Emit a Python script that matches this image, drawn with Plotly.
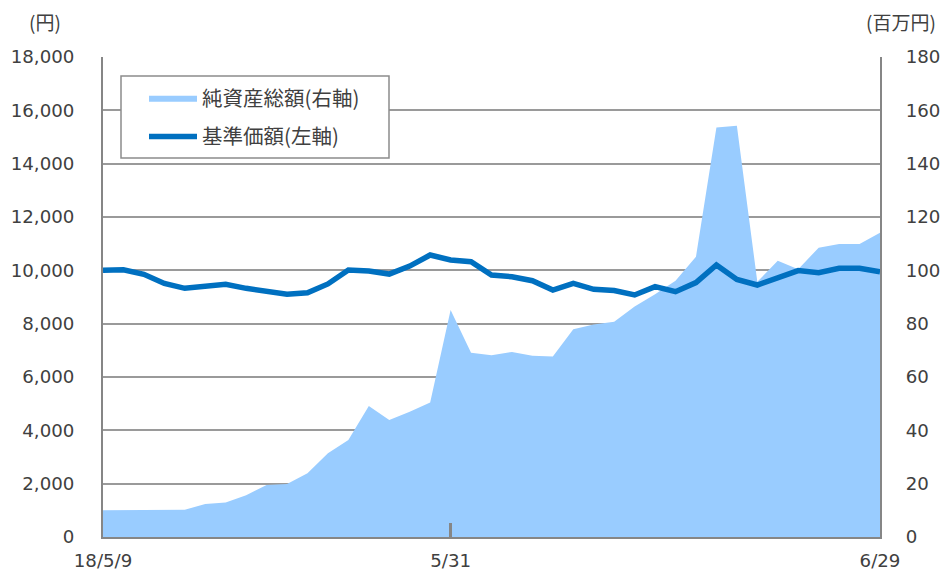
import pandas as pd
import plotly.graph_objects as go

# categories (business days)
dates = [d.strftime("%Y-%m-%d") for d in pd.bdate_range("2018-05-08", "2018-06-29")]
tick_idx = [0, 17, 38]
tick_text = ["18/5/9", "5/31", "6/29"]

# 基準価額 (円, left axis)
nav_price = [10000, 10020, 9850, 9510, 9325, 9390, 9475, 9325, 9200, 9100,
             9160, 9490, 10010, 9975, 9860, 10160, 10575, 10390, 10325, 9825,
             9760, 9610, 9260, 9510, 9290, 9240, 9075, 9390, 9200, 9540,
             10200, 9660, 9450, 9700, 9990, 9910, 10075, 10075, 9950]

# 純資産総額 (百万円, right axis)
net_assets = [10.0, 10.0, 10.0, 10.0, 10.2, 12.4, 12.9, 15.7, 19.5, 19.9,
              23.9, 31.4, 36.4, 49.1, 43.9, 47.0, 50.4, 85.1, 69.1, 68.2,
              69.4, 68.0, 67.7, 77.9, 79.7, 80.7, 86.4, 91.0, 96.1, 105.1,
              153.6, 154.2, 95.7, 103.6, 100.4, 108.5, 109.9, 109.9, 114.1]

left_ticks = list(range(0, 18001, 2000))
right_ticks = list(range(0, 181, 20))

FONT = "DejaVu Sans"
JP = "Noto Sans CJK JP"
TXT = "#404040"
GRID = "#9a9a9a"
AX = "#868686"
FS = 18.2

# the page body adds an 8px margin, so the figure is 8px smaller each way
W, H = 940, 566
L, T = 95, 49
PW, PH = 777, 480
R, B = W - L - PW, H - T - PH

# reference-pixel -> paper helpers (plot area spans x 103..880, y 57..537)
def px_x(x):
    return (x - 103) / PW


def px_y(y):
    return (537 - y) / PH


fig = go.Figure()
fig.add_trace(go.Scatter(
    x=dates, y=net_assets, name="純資産総額(右軸)", mode="lines",
    line=dict(width=0, color="#99CCFF"), fill="tozeroy", fillcolor="#99CCFF",
    yaxis="y", legendgroup="a", hoverinfo="skip"))
fig.add_trace(go.Scatter(
    x=dates, y=nav_price, name="基準価額(左軸)", mode="lines",
    line=dict(width=5.5, color="#0070C0"), yaxis="y2", legendgroup="b",
    hoverinfo="skip"))

fig.update_layout(
    width=W, height=H,
    margin=dict(l=L, r=R, t=T, b=B, autoexpand=False),
    paper_bgcolor="white", plot_bgcolor="white",
    font=dict(family=FONT, size=FS, color=TXT),
    showlegend=True,
    legend=dict(
        x=px_x(144), y=px_y(78), xanchor="left", yanchor="top",
        bgcolor="rgba(0,0,0,0)", borderwidth=0,
        font=dict(family=JP, size=20.5, color=TXT),
        traceorder="grouped", tracegroupgap=9, itemwidth=48,
    ),
    shapes=[dict(
        type="rect", xref="paper", yref="paper",
        x0=px_x(121), x1=px_x(389), y0=px_y(158), y1=px_y(76),
        line=dict(color="#8c8c8c", width=1.5), fillcolor="white", layer="above",
    )],
    xaxis=dict(
        type="category", range=[0, 38], automargin=False,
        tickmode="array", tickvals=[dates[i] for i in tick_idx], ticktext=tick_text,
        ticks="inside", ticklen=14, tickwidth=3, tickcolor=AX,
        showgrid=False, showline=True, linecolor=AX, linewidth=2,
        tickfont=dict(family=FONT, size=FS, color=TXT), ticklabelstandoff=6,
        zeroline=False,
    ),
    yaxis=dict(
        side="right", range=[0, 180], tickmode="array", tickvals=right_ticks,
        automargin=False,
        showgrid=True, gridcolor=GRID, gridwidth=2,
        showline=True, linecolor=AX, linewidth=2, ticks="",
        tickfont=dict(family=FONT, size=FS, color=TXT), ticklabelstandoff=20,
        zeroline=False,
    ),
    yaxis2=dict(
        overlaying="y", side="left", range=[0, 18000], tickmode="array",
        tickvals=left_ticks, tickformat=",d", showgrid=False, automargin=False,
        showline=True, linecolor=AX, linewidth=2, ticks="",
        tickfont=dict(family=FONT, size=FS, color=TXT), ticklabelstandoff=23,
        zeroline=False,
    ),
    annotations=[
        dict(text="(円)", x=px_x(45), y=px_y(22), xref="paper", yref="paper",
             showarrow=False, xanchor="center", yanchor="middle",
             font=dict(family=JP, size=19, color=TXT)),
        dict(text="(百万円)", x=px_x(901), y=px_y(22), xref="paper", yref="paper",
             showarrow=False, xanchor="center", yanchor="middle",
             font=dict(family=JP, size=19, color=TXT)),
    ],
)

fig.write_html("out.html")
